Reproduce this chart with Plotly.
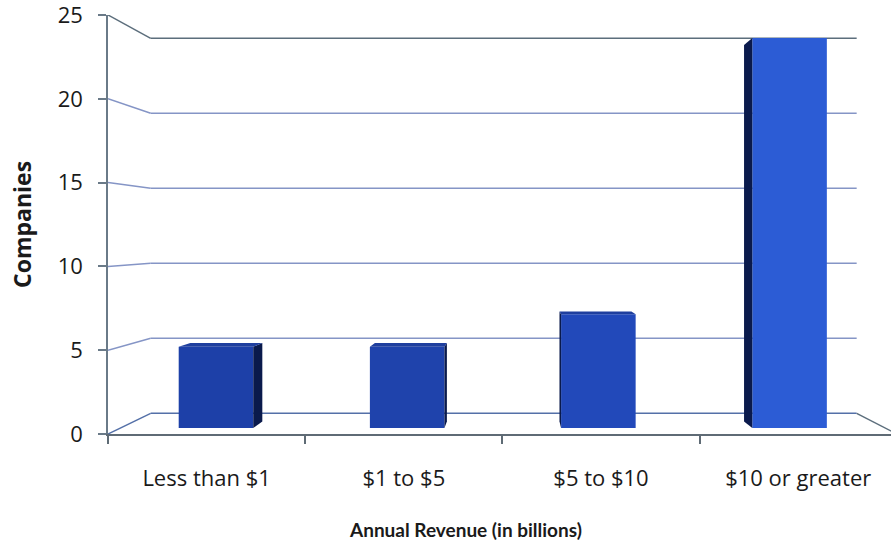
import plotly.graph_objects as go

# ---- data ----
categories = ["Less than $1", "$1 to $5", "$5 to $10", "$10 or greater"]
companies = [5, 5, 7, 24]
y_ticks = [0, 5, 10, 15, 20, 25]
x_title = "Annual Revenue (in billions)"
y_title = "Companies"

# ---- 3D look (style parameters) ----
VPX, VPY, S = 1.562, 11.75, 0.895      # vanishing point (data units) and back-wall scale
D_FRONT, D_BACK = 0.29, 0.61           # depth of bar front / back faces (0=front, 1=back wall)
BAR_W = 0.39
FRONT_COLORS = ["#1d40a8", "#1f43ac", "#2249ba", "#2c5cd5"]
SIDE_COLOR = "#0a1a4c"
TOP_COLOR = "#1f3f9e"
FONT = "Open Sans"
FONT_X_TITLE = "Lato"


def proj(x, v, d):
    f = 1 - d * (1 - S)
    return VPX + (x - VPX) * f, VPY + (v - VPY) * f


n = len(categories)
x_left, x_right = -0.5, n - 0.5
fig = go.Figure()

# walls (gridlines on back wall + left wall diagonals + floor)
shapes = []
for t in y_ticks:
    fx, fy = proj(x_left, t, 0)
    bx, by = proj(x_left, t, 1)
    rx, ry = proj(x_right, t, 1)
    if t == 0:
        col = "#5470a8"
    elif t == y_ticks[-1]:
        col = "#5c6e7c"
    else:
        col = "#8595c6"
    shapes.append(dict(type="line", xref="x", yref="y", x0=fx, y0=fy, x1=bx, y1=by,
                       line=dict(color=col, width=1.5), layer="below"))
    shapes.append(dict(type="line", xref="x", yref="y", x0=bx, y0=by, x1=rx, y1=ry,
                       line=dict(color=col, width=1.5), layer="below"))
# floor right edge
fx, fy = proj(x_right, 0, 0)
bx, by = proj(x_right, 0, 1)
shapes.append(dict(type="line", xref="x", yref="y", x0=fx, y0=fy, x1=bx, y1=by,
                   line=dict(color="#5c6e7c", width=1.5), layer="below"))

# bars: front faces via go.Bar
cx, widths, bases, heights = [], [], [], []
for i, v in enumerate(companies):
    xl, xr = i - BAR_W / 2, i + BAR_W / 2
    pxl, pb = proj(xl, 0, D_FRONT)
    pxr, pt = proj(xr, v, D_FRONT)
    cx.append((pxl + pxr) / 2)
    widths.append(pxr - pxl)
    bases.append(pb)
    heights.append(pt - pb)

fig.add_trace(go.Bar(x=cx, y=heights, base=bases, width=widths,
                     marker=dict(color=FRONT_COLORS, line=dict(width=0)),
                     hoverinfo="skip", showlegend=False))

# side / top faces
for i, v in enumerate(companies):
    xl, xr = i - BAR_W / 2, i + BAR_W / 2
    faces = []
    if xl > VPX:
        faces.append(([(xl, 0, D_FRONT), (xl, v, D_FRONT), (xl, v, D_BACK), (xl, 0, D_BACK)], SIDE_COLOR))
    if xr < VPX:
        faces.append(([(xr, 0, D_FRONT), (xr, v, D_FRONT), (xr, v, D_BACK), (xr, 0, D_BACK)], SIDE_COLOR))
    if v < VPY:
        faces.append(([(xl, v, D_FRONT), (xr, v, D_FRONT), (xr, v, D_BACK), (xl, v, D_BACK)], TOP_COLOR))
    for pts, col in faces:
        pp = [proj(*p) for p in pts]
        fig.add_trace(go.Scatter(x=[p[0] for p in pp] + [pp[0][0]],
                                 y=[p[1] for p in pp] + [pp[0][1]],
                                 mode="lines", fill="toself", fillcolor=col,
                                 line=dict(width=0, color=col),
                                 hoverinfo="skip", showlegend=False))

PX_PER_CAT = 197.2
fig.update_layout(
    width=891, height=546,
    margin=dict(l=108, r=0, t=15, b=112),
    paper_bgcolor="white", plot_bgcolor="white",
    font=dict(family=FONT, color="#1a1a1a"),
    shapes=shapes,
    showlegend=False,
    xaxis=dict(range=[x_left, x_left + 783 / PX_PER_CAT], showgrid=False, zeroline=False,
               showline=True, linecolor="#5f6b75", linewidth=1.5,
               tickmode="array", tickvals=list(range(n)), ticktext=categories,
               ticks="", tickfont=dict(size=22, family=FONT, color="#1a1a1a"),
               ticklabelstandoff=24, ticklabeloverflow="allow",
               minor=dict(tickmode="array", tickvals=[k - 0.5 for k in range(n + 1)],
                          ticks="outside", ticklen=8, tickcolor="#5f6b75", tickwidth=1.5)),
    yaxis=dict(range=[0, 25], showgrid=False, zeroline=False,
               showline=True, linecolor="#6a7a88", linewidth=1.5,
               tickmode="array", tickvals=y_ticks, ticks="outside", ticklen=8,
               tickcolor="#6a7a88", tickwidth=1.5,
               tickfont=dict(size=22, family=FONT, color="#1a1a1a"),
               ticklabelstandoff=11, ticklabeloverflow="allow"),
    annotations=[
        dict(text=f"<b>{x_title}</b>", xref="paper", yref="paper", x=0.457, y=-0.229,
             xanchor="center", yanchor="middle", showarrow=False,
             font=dict(size=19, family=FONT_X_TITLE, color="#1a1a1a")),
        dict(text=f"<b>{y_title}</b>", xref="paper", yref="paper", x=-0.1098, y=0.499,
             xanchor="center", yanchor="middle", showarrow=False, textangle=-90,
             font=dict(size=23, family=FONT, color="#1a1a1a")),
    ],
)

fig.write_html("out.html")
